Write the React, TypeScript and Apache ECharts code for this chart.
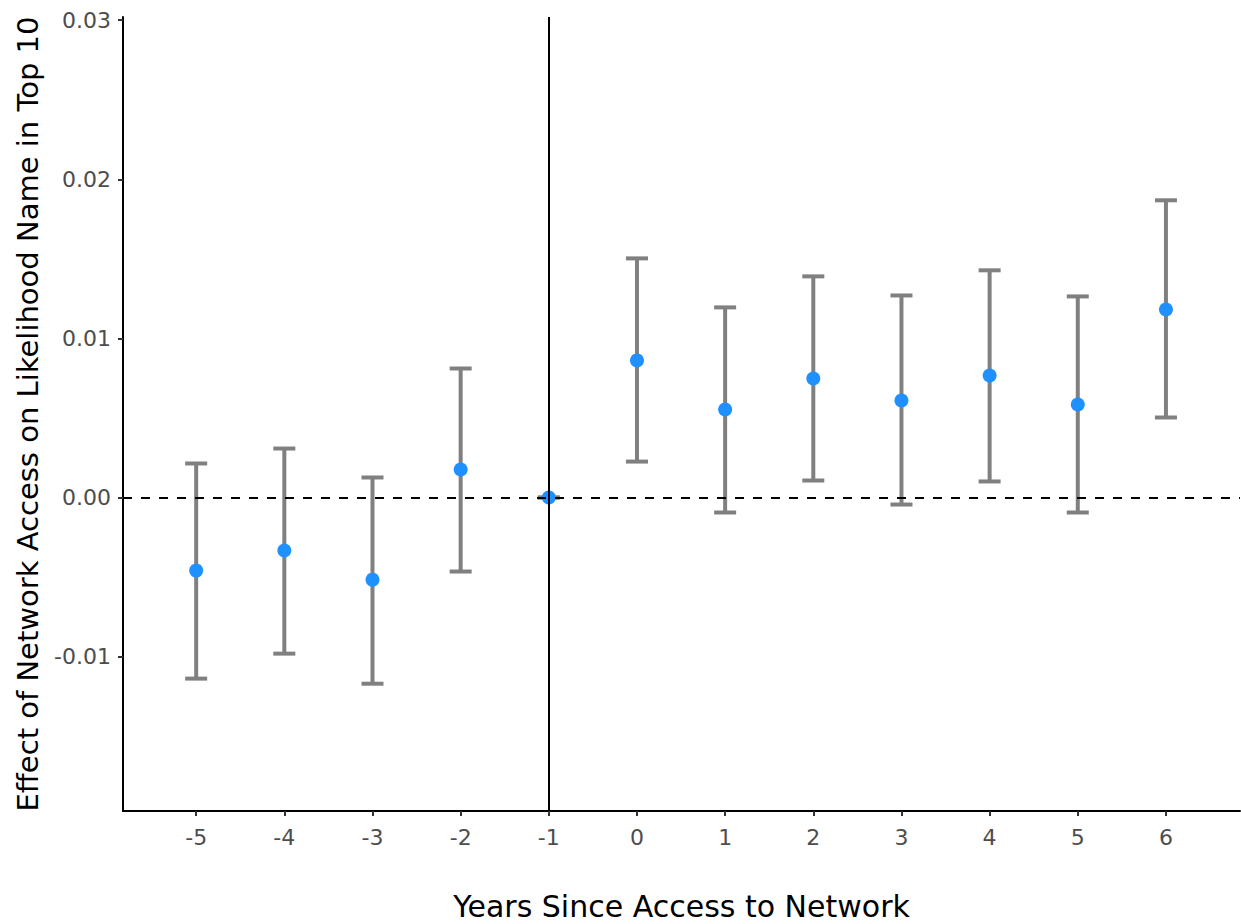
import React, { useEffect, useRef } from "react";
import * as echarts from "echarts";

const years = [-5, -4, -3, -2, -1, 0, 1, 2, 3, 4, 5, 6];
const estimates = [-0.00459, -0.00333, -0.00516, 0.00176, 0, 0.00862, 0.00553, 0.00748, 0.0061, 0.00767, 0.00585, 0.01182];
const upper = [0.00214, 0.00308, 0.00126, 0.00811, 0, 0.01503, 0.01195, 0.0139, 0.0127, 0.01428, 0.01264, 0.01868];
const lower = [-0.01138, -0.00981, -0.0117, -0.00465, 0, 0.00226, -0.00094, 0.00107, -0.00044, 0.00101, -0.00094, 0.00503];
const yTicks = [-0.01, 0, 0.01, 0.02, 0.03];

const FONT = "DejaVu Sans, Liberation Sans, Arial, sans-serif";

export default function App() {
  const ref = useRef<HTMLDivElement>(null);
  useEffect(() => {
    const chart = echarts.init(ref.current!, null, { renderer: "svg" });
    const barData = years.map((y, i) => [y, lower[i], upper[i]]);
    const pts = years.map((y, i) => [y, estimates[i]]);
    chart.setOption({
      animation: false,
      backgroundColor: "#ffffff",
      grid: { left: 123, right: 1, top: 17, bottom: 113, containLabel: false, outerBoundsMode: "none" },
      xAxis: {
        type: "value",
        min: -5.83,
        max: 6.84,
        name: "Years Since Access to Network",
        nameLocation: "middle",
        nameGap: 80,
        nameTextStyle: { fontFamily: FONT, fontSize: 30, color: "#000" },
        axisLine: { show: true, onZero: false, lineStyle: { color: "#000", width: 2 } },
        axisTick: { show: true, length: 5, customValues: years, lineStyle: { color: "#333", width: 2 } },
        axisLabel: {
          customValues: years,
          margin: 15,
          fontFamily: FONT,
          fontSize: 22,
          color: "#4d4d4d",
          formatter: (v: number) => String(v),
        },
        splitLine: { show: false },
      },
      yAxis: {
        type: "value",
        min: -0.0197,
        max: 0.0302,
        name: "Effect of Network Access on Likelihood Name in Top 10",
        nameLocation: "middle",
        nameGap: 81,
        nameTextStyle: { fontFamily: FONT, fontSize: 29, color: "#000" },
        axisLine: { show: true, onZero: false, lineStyle: { color: "#000", width: 2 } },
        axisTick: { show: true, length: 5, customValues: yTicks, lineStyle: { color: "#333", width: 2 } },
        axisLabel: {
          customValues: yTicks,
          margin: 12,
          fontFamily: FONT,
          fontSize: 22,
          color: "#4d4d4d",
          formatter: (v: number) => v.toFixed(2),
        },
        splitLine: { show: false },
      },
      series: [
        {
          type: "custom",
          z: 2,
          data: barData,
          renderItem: (params: any, api: any) => {
            const x = api.value(0);
            const lo = api.coord([x, api.value(1)]);
            const hi = api.coord([x, api.value(2)]);
            const hw = 11;
            const style = { stroke: "#808080", lineWidth: 4, fill: "none" };
            return {
              type: "group",
              children: [
                { type: "line", shape: { x1: lo[0], y1: lo[1], x2: hi[0], y2: hi[1] }, style },
                { type: "line", shape: { x1: hi[0] - hw, y1: hi[1], x2: hi[0] + hw, y2: hi[1] }, style },
                { type: "line", shape: { x1: lo[0] - hw, y1: lo[1], x2: lo[0] + hw, y2: lo[1] }, style },
              ],
            };
          },
        },
        {
          type: "scatter",
          z: 3,
          data: [],
          markLine: {
            silent: true,
            symbol: "none",
            label: { show: false },
            lineStyle: { color: "#000", width: 2, type: [9, 9] },
            data: [{ yAxis: 0 }],
          },
        },
        {
          type: "scatter",
          z: 4,
          data: pts,
          symbol: "circle",
          symbolSize: 14,
          itemStyle: { color: "#1E90FF", opacity: 1 },
        },
        {
          type: "scatter",
          z: 5,
          data: [],
          markLine: {
            silent: true,
            symbol: "none",
            label: { show: false },
            lineStyle: { color: "#000", width: 2, type: "solid" },
            data: [{ xAxis: -1 }],
          },
        },
      ],
    });
    return () => chart.dispose();
  }, []);
  return <div ref={ref} style={{ width: 1241, height: 924, position: "absolute", left: 0, top: 0 }} />;
}
